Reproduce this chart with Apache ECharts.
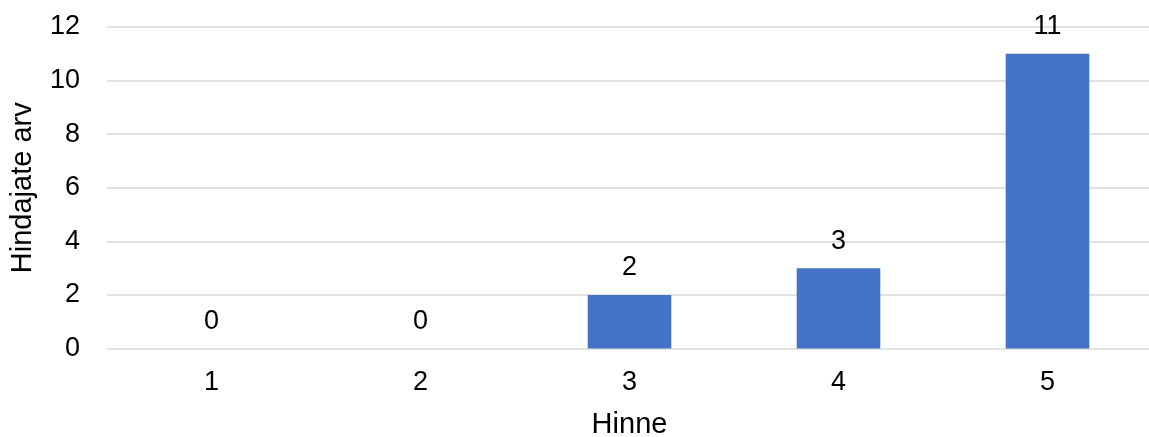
<!DOCTYPE html>
<html>
<head>
<meta charset="utf-8">
<script src="https://cdn.jsdelivr.net/npm/echarts@6/dist/echarts.min.js"></script>
<style>
html,body{margin:0;padding:0;background:#fff;}
#c{width:1149px;height:437px;}
</style>
</head>
<body>
<div id="c"></div>
<script>
const categories = ['1', '2', '3', '4', '5'];
const values = [0, 0, 2, 3, 11];
const xTitle = 'Hinne';
const yTitle = 'Hindajate arv';

const chart = echarts.init(document.getElementById('c'), null, {renderer: 'canvas'});
const font = 'Liberation Sans, Arial, sans-serif';
const fs = 27;
const nfs = 29;
chart.setOption({
  animation: false,
  grid: {left: 107, right: -3, top: 27, bottom: 88.5, containLabel: false, outerBoundsMode: 'none'},
  xAxis: {
    type: 'category',
    data: categories,
    name: xTitle,
    nameLocation: 'middle',
    nameGap: 62,
    nameTextStyle: {color: '#000', fontSize: nfs, fontFamily: font},
    axisLine: {show: false},
    axisTick: {show: false},
    axisLabel: {color: '#000', fontSize: fs, fontFamily: font, margin: 21}
  },
  yAxis: {
    type: 'value',
    min: 0, max: 12, interval: 2,
    name: yTitle,
    nameLocation: 'middle',
    nameGap: 69.5,
    nameTextStyle: {color: '#000', fontSize: nfs, fontFamily: font},
    axisLine: {show: false},
    axisTick: {show: false},
    axisLabel: {color: '#000', fontSize: fs, fontFamily: font, margin: 27},
    splitLine: {lineStyle: {color: '#d9d9d9', width: 1.5}}
  },
  series: [{
    type: 'bar',
    data: values,
    barWidth: '40%',
    itemStyle: {color: '#4472C4'},
    label: {show: true, position: 'top', distance: 13.5, color: '#000', fontSize: fs, fontFamily: font}
  }]
});
</script>
</body>
</html>
